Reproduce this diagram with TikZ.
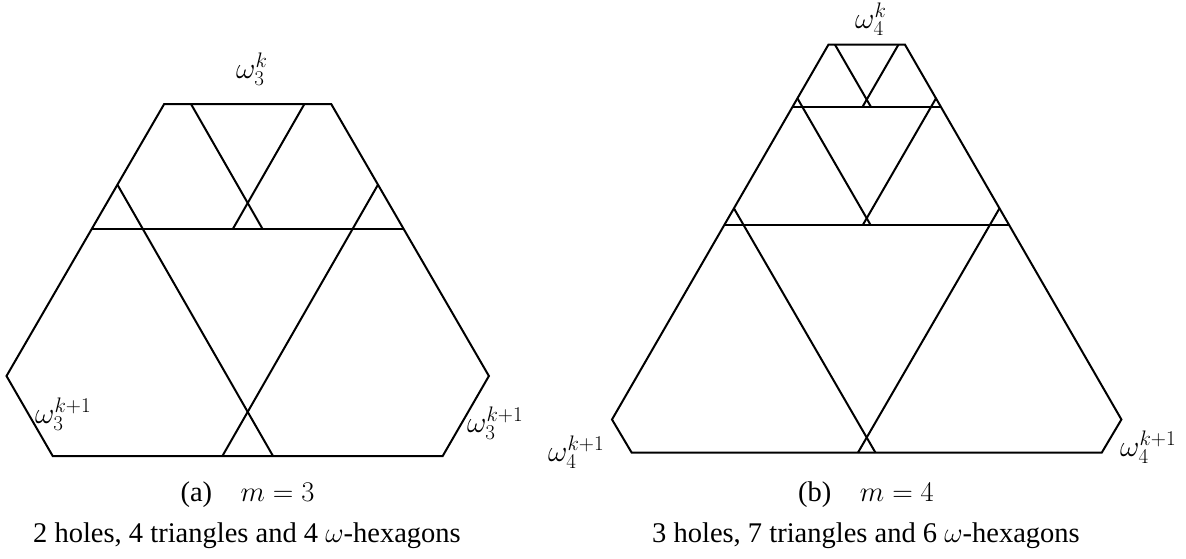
\RequirePackage{fix-cm}
\documentclass[tikz,border=0pt]{standalone}
\usepackage[no-math]{fontspec}
\setmainfont{Liberation Serif}
\begin{document}
\begin{tikzpicture}[x=1pt,y=-1pt,
  edge/.style={line width=2pt, line join=miter},
  lbl/.style={font=\fontsize{30}{36}\selectfont, inner sep=0pt},
  captext/.style={font=\fontsize{28.5}{34}\selectfont, inner sep=0pt}]
\useasboundingbox (0,0) rectangle (1186,558);
% ---------- (a) m = 3 ----------
\coordinate (a1) at (164.2,104);
\coordinate (a2) at (331.2,104);
\coordinate (a3) at (488.9,376);
\coordinate (a4) at (442.7,456);
\coordinate (a5) at (52.7,456);
\coordinate (a6) at (6.5,376);
\coordinate (ah1) at (92.3,228.5);
\coordinate (ah2) at (403.1,228.5);
\coordinate (at1) at (191,104);
\coordinate (at1e) at (262.3,228.5);
\coordinate (at2) at (304.4,104);
\coordinate (at2e) at (233.1,228.5);
\coordinate (al1) at (117.6,185);
\coordinate (al1e) at (273,456);
\coordinate (al2) at (377.8,185);
\coordinate (al2e) at (222.4,456);
\draw[edge] (a1) -- (a2) -- (a3) -- (a4) -- (a5) -- (a6) -- cycle;
\draw[edge] (ah1) -- (ah2);
\draw[edge] (at1) -- (at1e);
\draw[edge] (at2) -- (at2e);
\draw[edge] (al1) -- (al1e);
\draw[edge] (al2) -- (al2e);
\node[lbl, anchor=base west] (la1) at (236,78) {$\omega_3^k$};
\node[lbl, anchor=base west] (la2) at (35,423) {$\omega_3^{k+1}$};
\node[lbl, anchor=base west] (la3) at (467,432) {$\omega_3^{k+1}$};
\node[captext] (ca1) at (247.5,495) {(a)\quad $m=3$};
\node[captext] (ca2) at (247,536) {2 holes, 4 triangles and 4 $\omega$-hexagons};
% ---------- (b) m = 4 ----------
\coordinate (b1) at (828.4,44.7);
\coordinate (b2) at (905,44.7);
\coordinate (b3) at (1121.4,419.5);
\coordinate (b4) at (1101.7,452.7);
\coordinate (b5) at (631.7,452.7);
\coordinate (b6) at (612,419.5);
\coordinate (bh1) at (792.6,106.7);
\coordinate (bh1e) at (940.8,106.7);
\coordinate (bh2) at (724.3,225);
\coordinate (bh2e) at (1009.1,225);
\coordinate (bt1) at (835,44.7);
\coordinate (bt1e) at (870.8,106.7);
\coordinate (bt2) at (898.4,44.7);
\coordinate (bt2e) at (862.6,106.7);
\coordinate (bm1) at (797.4,98.3);
\coordinate (bm1e) at (870.6,225);
\coordinate (bm2) at (936,98.3);
\coordinate (bm2e) at (862.8,225);
\coordinate (bl1) at (733.9,208.3);
\coordinate (bl1e) at (875.5,452.7);
\coordinate (bl2) at (999.5,208.3);
\coordinate (bl2e) at (857.9,452.7);
\draw[edge] (b1) -- (b2) -- (b3) -- (b4) -- (b5) -- (b6) -- cycle;
\draw[edge] (bh1) -- (bh1e);
\draw[edge] (bh2) -- (bh2e);
\draw[edge] (bt1) -- (bt1e);
\draw[edge] (bt2) -- (bt2e);
\draw[edge] (bm1) -- (bm1e);
\draw[edge] (bm2) -- (bm2e);
\draw[edge] (bl1) -- (bl1e);
\draw[edge] (bl2) -- (bl2e);
\node[lbl, anchor=base west] (lb1) at (855,28.5) {$\omega_4^k$};
\node[lbl, anchor=base west] (lb2) at (548,461) {$\omega_4^{k+1}$};
\node[lbl, anchor=base west] (lb3) at (1120,456) {$\omega_4^{k+1}$};
\node[captext] (cb1) at (866,495) {(b)\quad $m=4$};
\node[captext] (cb2) at (866,536) {3 holes, 7 triangles and 6 $\omega$-hexagons};
\end{tikzpicture}
\end{document}
